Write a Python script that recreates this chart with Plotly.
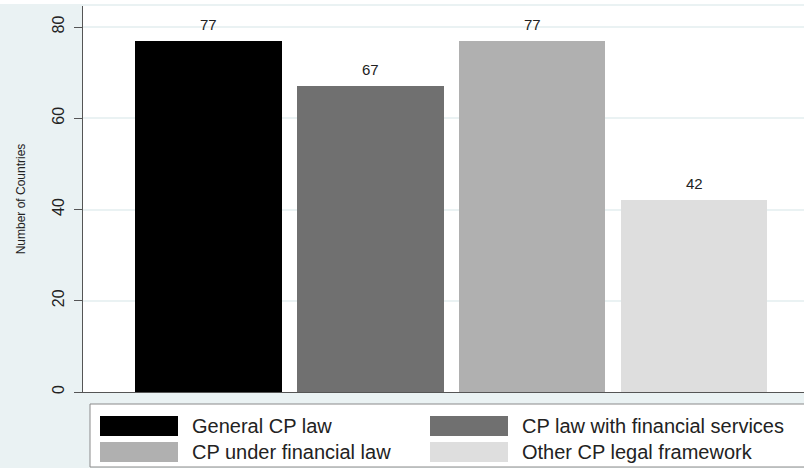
import plotly.graph_objects as go

categories = ["General CP law", "CP law with financial services",
              "CP under financial law", "Other CP legal framework"]
values = [77, 67, 77, 42]
colors = ["#000000", "#707070", "#B0B0B0", "#DEDEDE"]
y_ticks = [0, 20, 40, 60, 80]
y_title = "Number of Countries"

W, H = 804, 468
L, R, T, B = 83, 0, 6, 76
pw = W - L - R
ph = H - T - B
FONT = "Liberation Sans, Arial, sans-serif"


def px(x):
    return (x - L) / pw


def py(y):
    return (H - B - y) / ph


fig = go.Figure()
fig.add_trace(go.Bar(
    x=list(range(len(categories))), y=values,
    marker=dict(color=colors, line=dict(width=0)),
    width=0.907, showlegend=False, hoverinfo="skip",
))

annotations = []
for i, v in enumerate(values):
    annotations.append(dict(x=i, y=v, xref="x", yref="y", text=str(v),
                            showarrow=False, yanchor="bottom", yshift=6,
                            font=dict(size=15, color="#222", family=FONT)))

shapes = []
# top white strip (cropped title area)
shapes.append(dict(type="rect", xref="paper", yref="paper",
                   x0=px(0), x1=px(W), y0=py(4), y1=py(0),
                   fillcolor="white", line=dict(width=0), layer="below"))
# legend box
shapes.append(dict(type="rect", xref="paper", yref="paper",
                   x0=px(90), x1=px(812), y0=py(467), y1=py(404),
                   fillcolor="white", line=dict(color="#8a8a8a", width=1)))
col_x = [100, 430]
row_y = [426, 452]
for i, (name, c) in enumerate(zip(categories, colors)):
    cx = col_x[i % 2]
    ry = row_y[i // 2]
    shapes.append(dict(type="rect", xref="paper", yref="paper",
                       x0=px(cx), x1=px(cx + 78), y0=py(ry + 10), y1=py(ry - 10),
                       fillcolor=c, line=dict(width=0)))
    annotations.append(dict(x=px(cx + 90), y=py(ry), xref="paper", yref="paper",
                            text=name, showarrow=False, xanchor="left",
                            yanchor="middle",
                            font=dict(size=20, color="#222", family=FONT)))

fig.update_layout(
    width=W, height=H,
    margin=dict(l=L, r=R, t=T, b=B),
    paper_bgcolor="#EAF2F3", plot_bgcolor="white",
    font=dict(family=FONT, color="#222"),
    shapes=shapes, annotations=annotations,
    bargap=0,
)
fig.update_xaxes(range=[-0.772, 3.679], showline=True, linecolor="#555",
                 linewidth=1, showticklabels=False, ticks="", showgrid=False,
                 zeroline=False, fixedrange=True)
fig.update_yaxes(range=[0, ph / 4.5625], tickvals=y_ticks, tickangle=-90,
                 ticks="outside", ticklen=8, tickcolor="#555",
                 showline=True, linecolor="#555", linewidth=1,
                 gridcolor="#EAF2F3", gridwidth=1.5, zeroline=False,
                 ticklabelstandoff=4,
                 tickfont=dict(size=16, color="#222", family=FONT),
                 title=dict(text=y_title, font=dict(size=12, color="#222", family=FONT),
                            standoff=21))

fig.write_html("out.html", config={"displayModeBar": False},
               post_script="document.body.style.margin='0';document.body.style.overflow='hidden';")
